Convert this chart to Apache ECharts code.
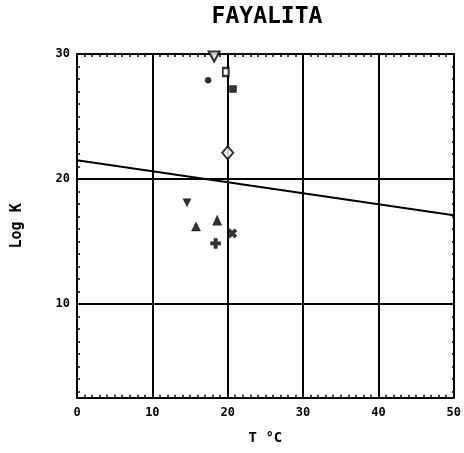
<!DOCTYPE html>
<html>
<head>
<meta charset="utf-8">
<script src="https://cdn.jsdelivr.net/npm/echarts@6/dist/echarts.min.js"></script>
<style>
html,body{margin:0;padding:0;background:#fff;}
#chart{width:464px;height:453px;}
</style>
</head>
<body>
<div id="chart"></div>
<script>
// ---- data ----
const titleText = "FAYALITA";
const xName = "T °C";
const yName = "Log K";
const xTicks = [0, 10, 20, 30, 40, 50];
const yTicks = [10, 20, 30];
const yGridLines = [10, 20];
// measured points (temperature, log K)
const pointT    = [18.2, 19.75, 17.4, 20.7, 20.0, 14.6, 15.8, 18.6, 20.6, 18.4];
const pointLogK = [29.8, 28.56, 27.9, 27.2, 22.1, 18.1, 16.2, 16.7, 15.65, 14.85];
// fitted line endpoints
const lineT    = [0, 50];
const lineLogK = [21.5, 17.1];

// ---- styles ----
const FONT = "DejaVu Sans Mono";
const plusPath = 'path://M3.3,0 H6.7 V3.3 H10 V6.7 H6.7 V10 H3.3 V6.7 H0 V3.3 H3.3 Z';
const markerStyles = [
  {symbol: 'triangle', rotate: 180, size: [11, 10], open: true},
  {symbol: 'rect', rotate: 0, size: [6, 8], open: true},
  {symbol: 'circle', rotate: 0, size: 6, open: false},
  {symbol: 'rect', rotate: 0, size: 7, open: false},
  {symbol: 'diamond', rotate: 0, size: [11, 13], open: true},
  {symbol: 'triangle', rotate: 180, size: [8, 8], open: false},
  {symbol: 'triangle', rotate: 0, size: [9, 9], open: false},
  {symbol: 'triangle', rotate: 0, size: [9, 10], open: false},
  {symbol: plusPath, rotate: 45, size: 10, open: false},
  {symbol: plusPath, rotate: 0, size: 10, open: false}
];

const chart = echarts.init(document.getElementById('chart'), null, {renderer: 'canvas'});

const G_TOP = 54, G_LEFT = 77, G_RIGHT = 9;
const UNIT_Y = 12.5;
const Y_MIN = 2.5, Y_MAX = 30;
const gridHeight = (Y_MAX - Y_MIN) * UNIT_Y;
const grid2Height = (Y_MAX - 3) * UNIT_Y;

const pointSeries = pointT.map((t, i) => {
  const st = markerStyles[i];
  return {
    type: 'scatter',
    xAxisIndex: 0, yAxisIndex: 0,
    data: [[t, pointLogK[i]]],
    symbol: st.symbol,
    symbolRotate: st.rotate,
    symbolSize: st.size,
    itemStyle: st.open
      ? {color: '#fff', borderColor: '#000', borderWidth: 2}
      : {color: '#000', borderColor: '#000', borderWidth: 0.5},
    silent: true,
    z: 5
  };
});

const option = {
  backgroundColor: '#fff',
  animation: false,
  graphic: [{
    type: 'text',
    style: {
      text: titleText, x: 267, y: 17,
      textAlign: 'center', textVerticalAlign: 'middle',
      font: 'bold 23px "' + FONT + '"', fill: '#000'
    }
  }],
  grid: [
    {left: G_LEFT, right: G_RIGHT, top: G_TOP, height: gridHeight},
    {left: G_LEFT, right: G_RIGHT, top: G_TOP, height: grid2Height}
  ],
  xAxis: [
    {
      gridIndex: 0, type: 'value', position: 'bottom',
      min: xTicks[0], max: xTicks[xTicks.length - 1], interval: 10,
      name: xName, nameLocation: 'middle', nameGap: 34,
      nameTextStyle: {fontFamily: FONT, fontWeight: 'bold', fontSize: 14, color: '#000'},
      axisLine: {show: true, onZero: false, lineStyle: {color: '#000', width: 2}},
      axisTick: {show: true, inside: true, length: 4, lineStyle: {color: '#000', width: 1.5}},
      minorTick: {show: true, splitNumber: 10, length: 3, lineStyle: {color: '#000', width: 1.5}},
      axisLabel: {margin: 9, fontFamily: FONT, fontWeight: 'bold', fontSize: 12, color: '#000'},
      splitLine: {show: true, lineStyle: {color: '#000', width: 2}}
    },
    {
      gridIndex: 0, type: 'value', position: 'top',
      min: xTicks[0], max: xTicks[xTicks.length - 1], interval: 10,
      axisLine: {show: true, onZero: false, lineStyle: {color: '#000', width: 2}},
      axisTick: {show: true, inside: true, length: 4, lineStyle: {color: '#000', width: 1.5}},
      minorTick: {show: true, splitNumber: 10, length: 3, lineStyle: {color: '#000', width: 1.5}},
      axisLabel: {show: false},
      splitLine: {show: false}
    },
    {
      gridIndex: 1, type: 'value', show: false,
      min: xTicks[0], max: xTicks[xTicks.length - 1]
    }
  ],
  yAxis: [
    {
      gridIndex: 0, type: 'value', position: 'left',
      min: Y_MIN, max: Y_MAX, interval: 2.5,
      name: yName, nameLocation: 'middle', nameGap: 52, nameRotate: 90,
      nameTextStyle: {fontFamily: FONT, fontWeight: 'bold', fontSize: 15, color: '#000'},
      axisLine: {show: true, onZero: false, lineStyle: {color: '#000', width: 2}},
      axisTick: {show: false},
      axisLabel: {
        margin: 7, fontFamily: FONT, fontWeight: 'bold', fontSize: 12, color: '#000',
        formatter: v => (yTicks.indexOf(Math.round(v * 100) / 100) >= 0 ? String(v) : '')
      },
      splitLine: {show: false}
    },
    {
      gridIndex: 0, type: 'value', position: 'right',
      min: Y_MIN, max: Y_MAX, interval: 2.5,
      axisLine: {show: true, onZero: false, lineStyle: {color: '#000', width: 2}},
      axisTick: {show: false},
      axisLabel: {show: false},
      splitLine: {show: false}
    },
    {
      gridIndex: 1, type: 'value', position: 'left',
      min: 3, max: Y_MAX, interval: 1,
      axisLine: {show: false},
      axisTick: {show: true, inside: true, length: 3, lineStyle: {color: '#000', width: 1.5}},
      axisLabel: {show: false},
      splitLine: {show: false}
    },
    {
      gridIndex: 1, type: 'value', position: 'right',
      min: 3, max: Y_MAX, interval: 1,
      axisLine: {show: false},
      axisTick: {show: true, inside: true, length: 3, lineStyle: {color: '#000', width: 1.5}},
      axisLabel: {show: false},
      splitLine: {show: false}
    }
  ],
  series: [
    {
      type: 'line',
      xAxisIndex: 0, yAxisIndex: 0,
      data: lineT.map((t, i) => [t, lineLogK[i]]),
      showSymbol: false, symbol: 'none',
      lineStyle: {color: '#000', width: 2},
      silent: true,
      markLine: {
        silent: true, symbol: 'none', label: {show: false},
        lineStyle: {color: '#000', width: 2, type: 'solid'},
        data: yGridLines.map(v => ({yAxis: v}))
      },
      z: 3
    },
    {
      type: 'scatter', xAxisIndex: 2, yAxisIndex: 2, data: [], silent: true
    }
  ].concat(pointSeries)
};

chart.setOption(option);
</script>
</body>
</html>
